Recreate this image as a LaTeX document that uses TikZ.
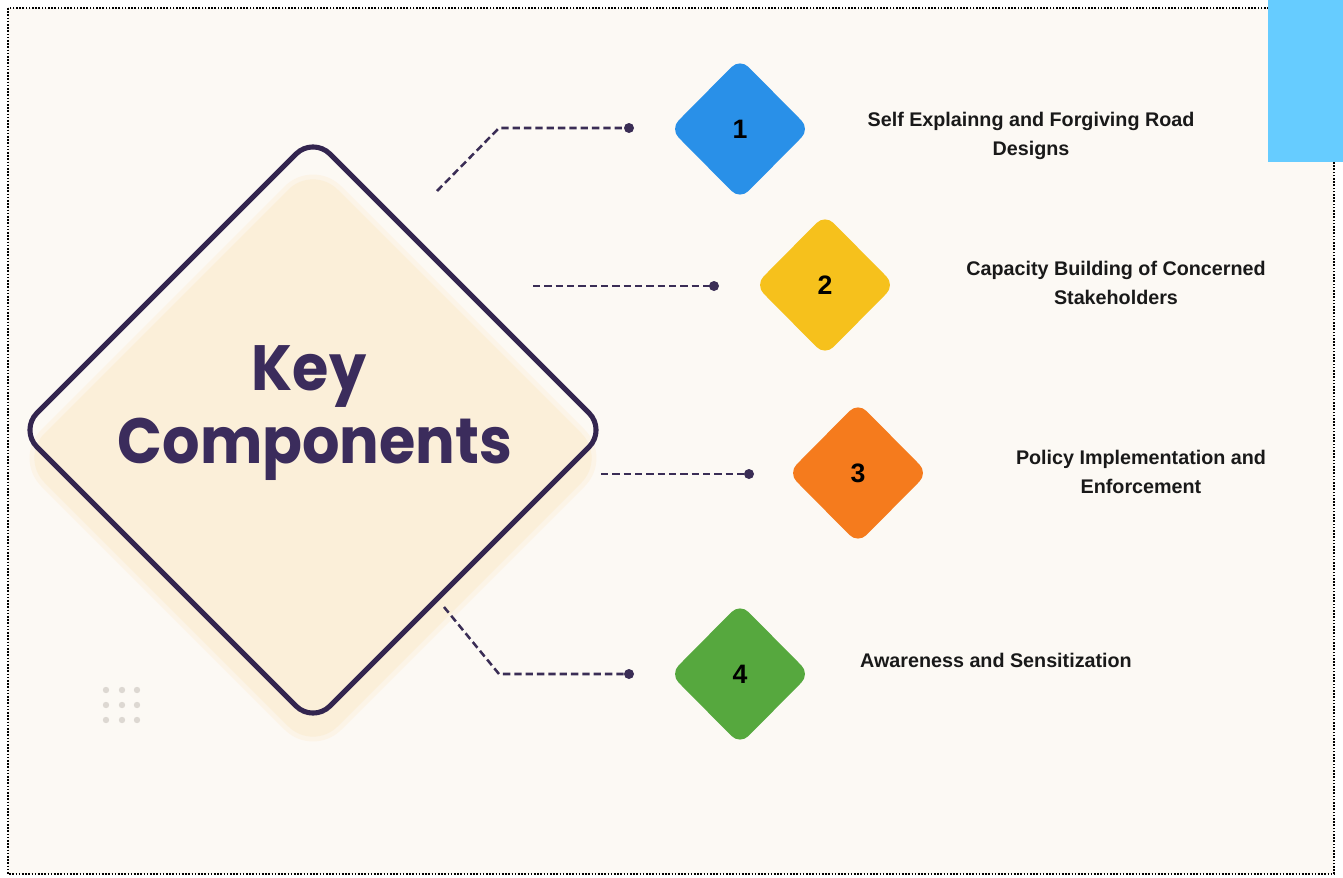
\documentclass[tikz,border=0pt]{standalone}
\usepackage{fontspec}
\setmainfont{Liberation Sans}
\newfontfamily\popfont{Poppins}[FakeStretch=0.92]
\usetikzlibrary{shapes.geometric}
\definecolor{bgc}{HTML}{FCF9F4}
\definecolor{creamc}{HTML}{FBEFD9}
\definecolor{creamhalo}{HTML}{FCF4E7}
\definecolor{outc}{HTML}{33254F}
\definecolor{keyc}{HTML}{3B2C5C}
\definecolor{conc}{HTML}{3A2D55}
\definecolor{dotc}{HTML}{DDD8D2}
\definecolor{bluec}{HTML}{2990E8}
\definecolor{yellowc}{HTML}{F6C11C}
\definecolor{orangec}{HTML}{F57B1D}
\definecolor{greenc}{HTML}{56A83E}
\definecolor{skyc}{HTML}{66CCFF}
\begin{document}
\begin{tikzpicture}[x=0.75pt,y=-0.75pt,
  smalldia/.style={diamond, draw=none, inner sep=0pt, minimum width=105pt, minimum height=106pt,
    rounded corners=9pt, font=\fontsize{20}{24}\selectfont\bfseries, text=black},
  conn/.style={draw=conc, line width=1.9pt, dash pattern=on 5.5pt off 3pt},
  enddot/.style={circle, fill=conc, inner sep=0pt, minimum size=7.5pt},
  lab/.style={align=center, font=\fontsize{14.8}{21.75}\selectfont\bfseries, text=black!90},
  keytext/.style={anchor=base, font=\popfont\fontsize{48}{55}\selectfont\bfseries, text=keyc},
  griddot/.style={fill=dotc}]
\useasboundingbox (0,0) rectangle (1343,878);
\fill[white] (0,0) rectangle (1343,878);
\fill[bgc] (8,8) rectangle (1334,874);
% decorative dot grids
\foreach \i in {387,399,410}{\foreach \j in {283,294,306}{\fill[griddot] (\i,\j) circle (2.2pt);}}
\foreach \i in {106,122,137}{\foreach \j in {690,705,720}{\fill[griddot] (\i,\j) circle (2.4pt);}}
% cream diamond (shadow)
\fill[creamhalo, rounded corners=30pt] (313,158) -- (613,458) -- (313,758) -- (13,458) -- cycle;
\fill[creamc, rounded corners=26pt] (313,165) -- (606,458) -- (313,751) -- (20,458) -- cycle;
% outline diamond
\draw[outc, line width=3.8pt, rounded corners=18pt] (313,137) -- (606,430) -- (313,723) -- (20,430) -- cycle;
\node[keytext] (keyt) at (309,390) {Key};
\node[keytext] (compt) at (315,463) {Components};
% small diamonds
\node[smalldia, fill=bluec] (d1) at (740,129) {1};
\node[smalldia, fill=yellowc] (d2) at (825,285) {2};
\node[smalldia, fill=orangec] (d3) at (858,473) {3};
\node[smalldia, fill=greenc] (d4) at (740,674) {4};
% connectors
\coordinate (s1) at (437,191);
\coordinate (b1) at (499,128);
\coordinate (s2) at (533,286);
\coordinate (s3) at (601,474);
\coordinate (s4) at (444,607);
\coordinate (b4) at (499,674);
\node[enddot] (e1) at (629,128) {};
\node[enddot] (e2) at (714,286) {};
\node[enddot] (e3) at (749,474) {};
\node[enddot] (e4) at (629,674) {};
\draw[conn] (s1) -- (b1) -- (e1.center);
\draw[conn] (s2) -- (e2.center);
\draw[conn] (s3) -- (e3.center);
\draw[conn] (s4) -- (b4) -- (e4.center);
% labels
\node[lab] (l1) at (1031,136) {Self Explainng and Forgiving Road\\Designs};
\node[lab] (l2) at (1116,283) {Capacity Building of Concerned\\Stakeholders};
\node[lab] (l3) at (1141,472) {Policy Implementation and\\Enforcement};
\node[lab] (l4) at (996,660) {Awareness and Sensitization};
% border and corner block
\draw[black, line width=1.4pt, dash pattern=on 1.2pt off 1.2pt] (8,8) rectangle (1334,874);
\fill[skyc] (1268,0) rectangle (1343,162);
\end{tikzpicture}
\end{document}
